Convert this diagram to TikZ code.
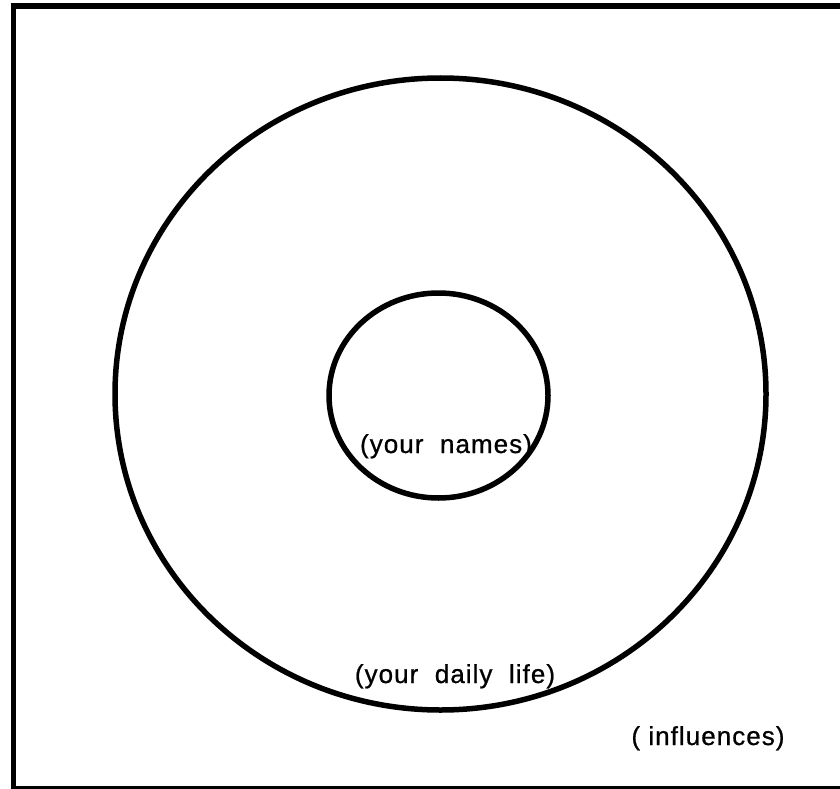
\documentclass[tikz,border=0pt]{standalone}
\usepackage{fontspec}
\setmainfont{Liberation Sans}
\newfontfamily\labelfont[LetterSpace=4, FakeBold=0.8]{Liberation Sans}
\tikzset{
  every picture/.style={line width=5pt},
  ring/.style={draw=black, line width=5.5pt},
  label/.style={font=\labelfont\fontsize{26}{30}\selectfont, inner sep=0pt, anchor=base},
}

\begin{document}
\begin{tikzpicture}[x=1pt, y=-1pt]
  \useasboundingbox (0,0) rectangle (840,789);
  \begin{scope}
    \clip (0,0) rectangle (840,789);
    \draw[line width=5.5pt] (13.5,6) rectangle (846,789);
  \end{scope}

  % rings
  \draw[ring] (440.5,394) ellipse [x radius=325.5, y radius=316];
  \draw[ring] (438.5,395.5) ellipse [x radius=109.5, y radius=102.5];

  % labels
  \node[label] (names) at (446,453) {(your\ \ names)};
  \node[label] (daily) at (455,683) {(your\ \ daily\ \ life)};
  \node[label] (infl) at (708,745) {(\ influences)};
\end{tikzpicture}
\end{document}
